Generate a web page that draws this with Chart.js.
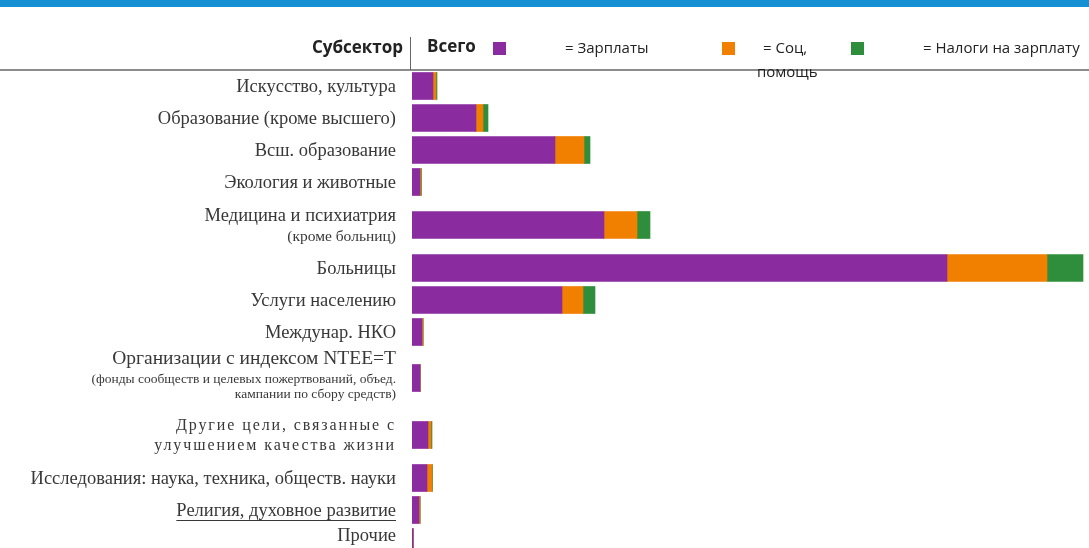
<!DOCTYPE html>
<html lang="ru">
<head>
<meta charset="utf-8">
<script src="https://cdn.jsdelivr.net/npm/chart.js@4"></script>
<style>
  html, body { margin: 0; padding: 0; background: #fff; }
  #wrap { width: 1089px; height: 548px; position: relative; }
</style>
</head>
<body>
<div id="wrap"><canvas id="chart"></canvas></div>
<script>
// subsectors, each label split into its printed lines
const categories = [
  ['Искусство, культура'],
  ['Образование (кроме высшего)'],
  ['Всш. образование'],
  ['Экология и животные'],
  ['Медицина и психиатрия', '(кроме больниц)'],
  ['Больницы'],
  ['Услуги населению'],
  ['Междунар. НКО'],
  ['Организации с индексом NTEE=T', '(фонды сообществ и целевых пожертвований, объед.', 'кампании по сбору средств)'],
  ['Другие цели, связанные с', 'улучшением качества жизни'],
  ['Исследования: наука, техника, обществ. науки'],
  ['Религия, духовное развитие'],
  ['Прочие']
];

const seriesNames = ['Зарплаты', 'Соц, помощь', 'Налоги на зарплату'];
const wages  = [21, 64, 143, 8, 192, 535, 150, 10, 8, 16, 15, 7, 1.2];
const social = [3, 7, 29, 1, 33, 100, 21, 1, 0.3, 3, 5, 1, 0];
const taxes  = [1, 5, 6, 0.5, 13, 36, 12, 0.3, 0.2, 1, 0.5, 0.3, 0];

const colors = ['#8a2b9f', '#f28000', '#2f8e3c'];
const spacedLabel = 9;     // label printed with letter spacing
const underlinedLabel = 11;

// row positions follow the number of lines in each label
const rowHeightByLines = { 1: 32, 2: 54, 3: 60 };
const rowPos = [];
let acc = 0;
categories.forEach((lines, i) => {
  if (i > 0) acc += (rowHeightByLines[categories[i - 1].length] + rowHeightByLines[lines.length]) / 2;
  rowPos.push(acc);
});

const toPoints = arr => arr.map((v, i) => ({ x: v, y: rowPos[i] }));

function lineStyle(i, j, text) {
  const serif = '"Liberation Serif"';
  if (i === spacedLabel) return { font: '16px ' + serif, h: 20, spacing: '1.9px' };
  if (categories[i].length === 3) {
    return j === 0 ? { font: '19.5px ' + serif, h: 26 } : { font: '13.5px ' + serif, h: 15 };
  }
  if (j > 0 && text.startsWith('(')) return { font: '15.5px ' + serif, h: 20 };
  return { font: '18.5px ' + serif, h: 21 };
}

const headerAndLabels = {
  id: 'headerAndLabels',
  beforeDraw(chart) {
    const ctx = chart.ctx;
    ctx.save();
    ctx.fillStyle = '#fff';
    ctx.fillRect(0, 0, chart.width, chart.height);
    ctx.fillStyle = '#1590d2';
    ctx.fillRect(0, 0, chart.width, 7);
    ctx.restore();
  },
  afterDraw(chart) {
    const ctx = chart.ctx;
    const y = chart.scales.y;
    ctx.save();

    // header row
    ctx.fillStyle = '#222';
    ctx.textBaseline = 'middle';
    ctx.font = 'bold 17px "Open Sans"';
    ctx.textAlign = 'right';
    ctx.fillText('Субсектор', 403, 48);
    ctx.textAlign = 'left';
    ctx.fillText('Всего', 427, 47);

    ctx.strokeStyle = '#666';
    ctx.lineWidth = 1;
    ctx.beginPath();
    ctx.moveTo(410.5, 37);
    ctx.lineTo(410.5, 70);
    ctx.stroke();
    ctx.lineWidth = 1.5;
    ctx.beginPath();
    ctx.moveTo(0, 70);
    ctx.lineTo(chart.width, 70);
    ctx.stroke();

    // legend
    const boxX = [493, 722, 851];
    const textX = [565, 763, 923];
    ctx.font = '15px "Open Sans"';
    seriesNames.forEach((name, i) => {
      ctx.fillStyle = colors[i];
      ctx.fillRect(boxX[i], 42, 13, 13);
      ctx.fillStyle = '#222';
      const parts = name.split(' ');
      if (i === 1) {
        ctx.fillText('= ' + parts[0], textX[i], 49);
        ctx.fillText(parts.slice(1).join(' '), textX[i] - 6, 73);
      } else {
        ctx.fillText('= ' + name, textX[i], 49);
      }
    });

    // category labels
    ctx.textAlign = 'right';
    ctx.fillStyle = '#383838';
    const right = 396;
    categories.forEach((lines, i) => {
      const styles = lines.map((t, j) => lineStyle(i, j, t));
      const total = styles.reduce((s, st) => s + st.h, 0);
      const shift = lines.length > 2 ? -4 : 1;
      let cy = y.getPixelForValue(rowPos[i]) - total / 2 + shift;
      cy = Math.min(cy, chart.height - total - 1);
      lines.forEach((t, j) => {
        const st = styles[j];
        ctx.font = st.font;
        ctx.letterSpacing = st.spacing || '0px';
        const lineY = cy + st.h / 2;
        ctx.fillText(t, right, lineY);
        if (i === underlinedLabel) {
          const w = ctx.measureText(t).width;
          ctx.lineWidth = 1;
          ctx.strokeStyle = '#383838';
          ctx.beginPath();
          ctx.moveTo(right - w, lineY + 9.5);
          ctx.lineTo(right, lineY + 9.5);
          ctx.stroke();
        }
        cy += st.h;
      });
    });
    ctx.restore();
  }
};

new Chart(document.getElementById('chart'), {
  type: 'bar',
  data: {
    datasets: [
      { label: seriesNames[0], data: toPoints(wages), backgroundColor: colors[0] },
      { label: seriesNames[1], data: toPoints(social), backgroundColor: colors[1] },
      { label: seriesNames[2], data: toPoints(taxes), backgroundColor: colors[2] }
    ]
  },
  options: {
    indexAxis: 'y',
    responsive: true,
    maintainAspectRatio: false,
    animation: false,
    layout: { padding: { left: 412, top: 70, right: 0, bottom: 0 } },
    barThickness: 27,
    plugins: {
      legend: { display: false },
      tooltip: { enabled: false }
    },
    scales: {
      x: { type: 'linear', stacked: true, min: 0, max: 677, display: false, offset: false },
      y: {
        type: 'linear', stacked: true, reverse: true, offset: false,
        min: -16, max: rowPos[rowPos.length - 1] + 6,
        display: false
      }
    }
  },
  plugins: [headerAndLabels]
});
</script>
</body>
</html>
